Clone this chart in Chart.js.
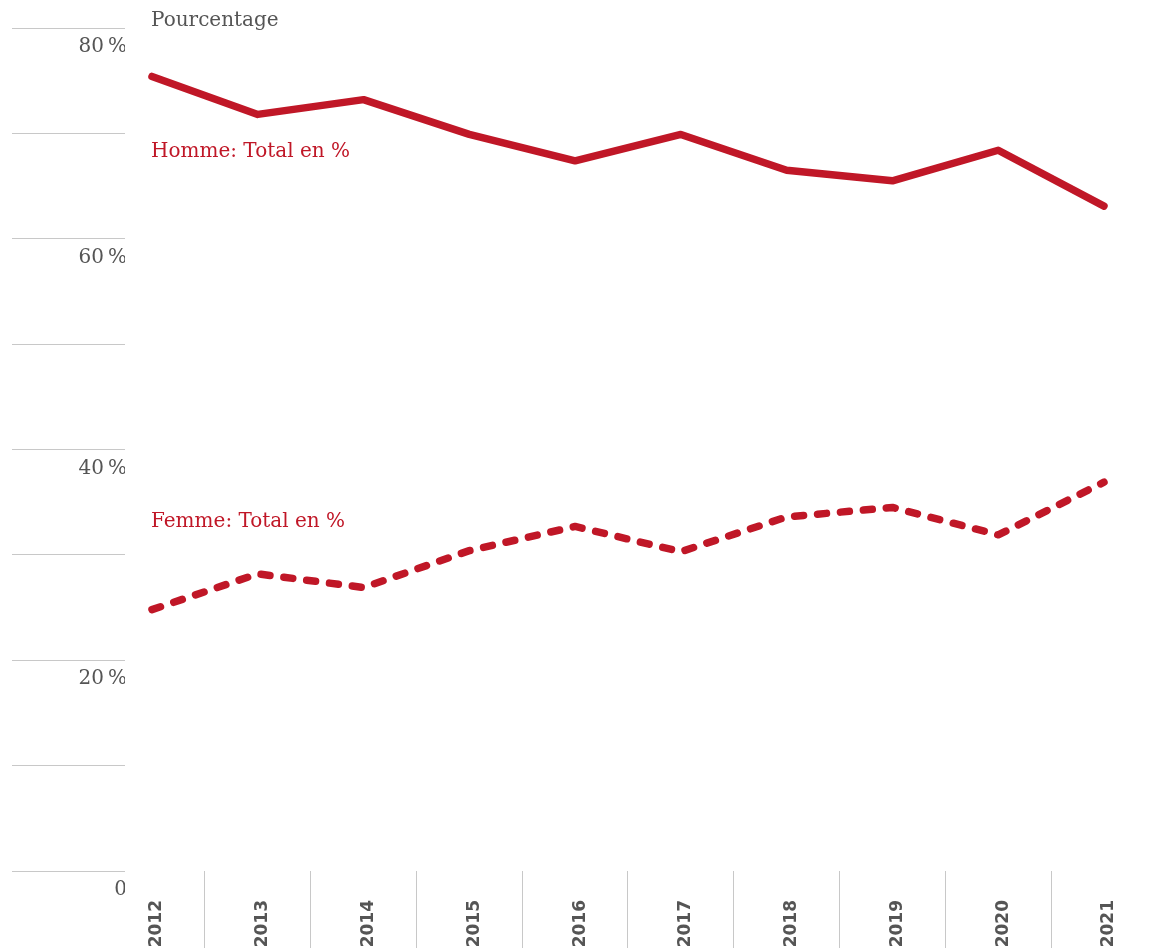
<!DOCTYPE html>
<html><head><meta charset="utf-8">
<script src="https://cdn.jsdelivr.net/npm/chart.js@4/dist/chart.umd.min.js"></script>
<style>html,body{margin:0;padding:0;background:#fff;overflow:hidden}#wrap{width:1152px;height:951px;position:relative}</style>
</head><body><div id="wrap"><canvas id="c"></canvas></div>
<script>
const years = [2012, 2013, 2014, 2015, 2016, 2017, 2018, 2019, 2020, 2021];
const homme = [75.4, 71.8, 73.2, 69.9, 67.4, 69.9, 66.5, 65.5, 68.4, 63.1];
const femme = [24.8, 28.2, 26.9, 30.4, 32.7, 30.3, 33.6, 34.5, 31.9, 36.9];
const yGridValues = [0, 10, 20, 30, 40, 50, 60, 70, 80];
const yTickLabels = {0: '0', 20: '20\u202F%', 40: '40\u202F%', 60: '60\u202F%', 80: '80\u202F%'};
const seriesNames = ['Homme: Total en %', 'Femme: Total en %'];
const axisTitle = 'Pourcentage';

const RED = '#c01727';
const GREY_TEXT = '#555555';
const GRID = '#c8c8c8';
const SERIF = '"DejaVu Serif", serif';

const textPlugin = {
  id: 'texts',
  afterDraw(chart) {
    const {ctx} = chart;
    ctx.save();
    ctx.textAlign = 'left';
    ctx.textBaseline = 'middle';
    ctx.fillStyle = GREY_TEXT;
    ctx.font = '20px ' + SERIF;
    ctx.fillText(axisTitle, 151, 21);
    ctx.fillStyle = RED;
    ctx.font = '20px ' + SERIF;
    ctx.fillText(seriesNames[0], 151, 152);
    ctx.fillText(seriesNames[1], 151, 522);
    ctx.restore();
  }
};

const xTicks = [];
years.forEach((yr, i) => {
  xTicks.push({value: yr});
  if (i < years.length - 1) xTicks.push({value: yr + 0.5});
});

new Chart(document.getElementById('c'), {
  type: 'line',
  data: {
    datasets: [
      {
        label: seriesNames[0],
        data: years.map((yr, i) => ({x: yr, y: homme[i]})),
        borderColor: RED,
        borderWidth: 7.5,
        borderCapStyle: 'round',
        borderJoinStyle: 'round',
        pointRadius: 0,
        tension: 0,
        fill: false
      },
      {
        label: seriesNames[1],
        data: years.map((yr, i) => ({x: yr, y: femme[i]})),
        borderColor: RED,
        borderWidth: 7.5,
        borderDash: [9, 14],
        borderCapStyle: 'round',
        borderJoinStyle: 'round',
        pointRadius: 0,
        tension: 0,
        fill: false
      }
    ]
  },
  options: {
    responsive: true,
    maintainAspectRatio: false,
    animation: false,
    layout: {padding: {top: 28, left: 0, right: 0, bottom: 0}},
    plugins: {legend: {display: false}, tooltip: {enabled: false}, title: {display: false}},
    scales: {
      x: {
        type: 'linear',
        min: 2011.745,
        max: 2021.454,
        afterBuildTicks(scale) { scale.ticks = xTicks.map(t => ({value: t.value})); },
        afterFit(scale) { scale.height = 80; },
        border: {display: false},
        grid: {
          drawOnChartArea: false,
          drawTicks: true,
          tickLength: 77,
          lineWidth: 1,
          color: (ctx) => (ctx.tick && !Number.isInteger(ctx.tick.value)) ? GRID : 'rgba(0,0,0,0)'
        },
        ticks: {
          autoSkip: false,
          minRotation: 90,
          maxRotation: 90,
          padding: -48,
          labelOffset: 5,
          color: GREY_TEXT,
          font: {family: '"DejaVu Sans", sans-serif', size: 17, weight: 'bold'},
          callback: (v) => Number.isInteger(v) ? String(v) : ''
        }
      },
      y: {
        type: 'linear',
        min: 0,
        max: 80,
        afterBuildTicks(scale) { scale.ticks = yGridValues.map(v => ({value: v})); },
        afterFit(scale) { scale.width = 125; },
        border: {display: false},
        grid: {
          drawOnChartArea: false,
          drawTicks: true,
          tickLength: 113,
          lineWidth: 1,
          color: GRID
        },
        ticks: {
          padding: -115,
          labelOffset: 19,
          color: GREY_TEXT,
          font: {family: SERIF, size: 20},
          callback: (v) => (v in yTickLabels) ? yTickLabels[v] : ''
        }
      }
    }
  },
  plugins: [textPlugin]
});
</script></body></html>
